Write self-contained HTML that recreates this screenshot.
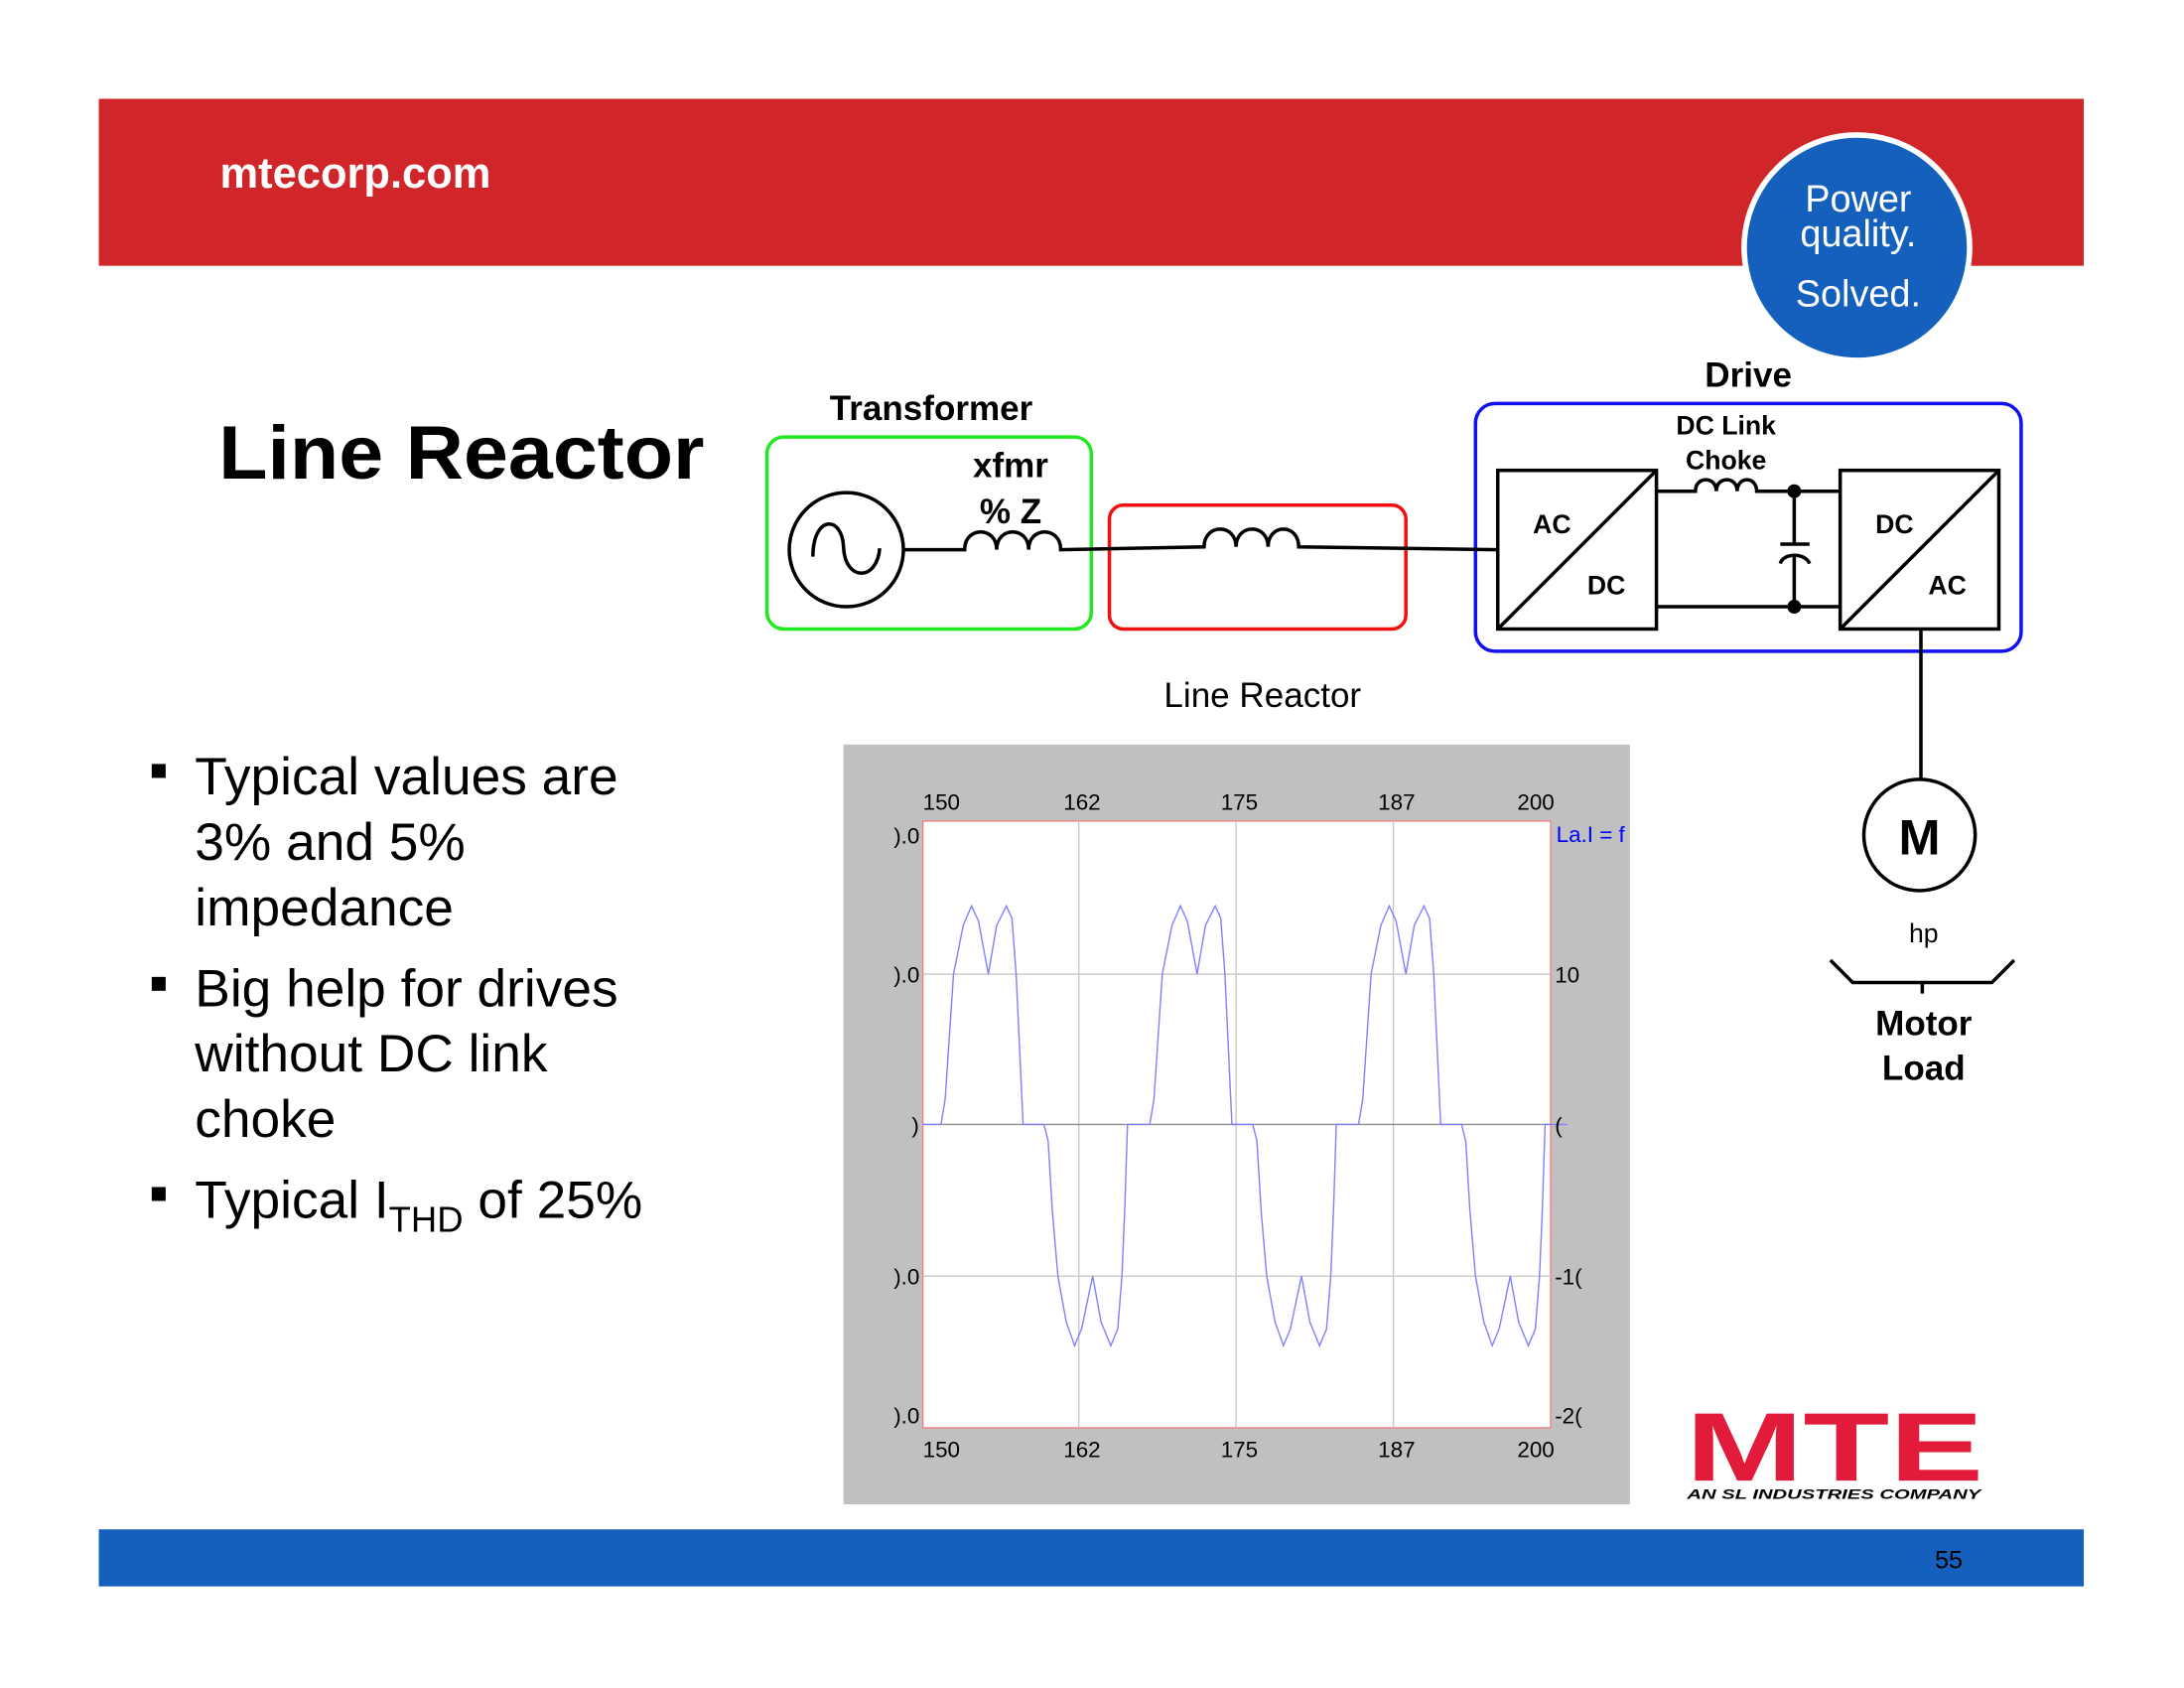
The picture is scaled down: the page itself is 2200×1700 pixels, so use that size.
<!DOCTYPE html>
<html><head><meta charset="utf-8"><style>
html,body{margin:0;padding:0;background:#fff;}
svg{display:block;}
text{font-family:"Liberation Sans",sans-serif;}
</style></head><body>
<svg width="2200" height="1700" viewBox="0 0 1569 1213" preserveAspectRatio="none" xmlns="http://www.w3.org/2000/svg">
<rect x="0" y="0" width="1569" height="1213" fill="#fff"/>
<rect x="71" y="71" width="1426" height="120" fill="#d0262a"/>
<text x="158" y="135" font-size="31" font-weight="bold" fill="#fff">mtecorp.com</text>
<circle cx="1334" cy="178" r="81" fill="#1560bd" stroke="#fff" stroke-width="4"/>
<text x="1335" y="152" font-size="27" fill="#fff" text-anchor="middle">Power</text>
<text x="1335" y="177" font-size="27" fill="#fff" text-anchor="middle">quality.</text>
<text x="1335" y="220" font-size="27" fill="#fff" text-anchor="middle">Solved.</text>
<text x="157" y="344" font-size="54" font-weight="bold" fill="#000" textLength="349" lengthAdjust="spacingAndGlyphs">Line Reactor</text>
<g font-size="38" fill="#000">
<rect x="109" y="549" width="10" height="10"/>
<text x="140" y="571">Typical values are</text>
<text x="140" y="618">3% and 5%</text>
<text x="140" y="665">impedance</text>
<rect x="109" y="702" width="10" height="10"/>
<text x="140" y="723">Big help for drives</text>
<text x="140" y="770">without DC link</text>
<text x="140" y="817">choke</text>
<rect x="109" y="853" width="10" height="10"/>
<text x="140" y="875">Typical I<tspan font-size="26" dy="10">THD</tspan><tspan dy="-10"> of 25%</tspan></text>
</g>
<g fill="none" stroke="#000" stroke-width="2.5">
<rect x="551" y="314" width="233" height="138" rx="12" stroke="#22e822"/>
<rect x="797" y="363" width="213" height="89" rx="10" stroke="#f01010"/>
<rect x="1060" y="290" width="392" height="178" rx="14" stroke="#1010f0"/>
<ellipse cx="608" cy="395" rx="41" ry="41"/>
<path d="M584,400 C584,370 605,370 606,393 C607,418 630,418 632,394"/>
<path d="M649,395 H693 C693,378 716,378 716,395 C716,378 739,378 739,395 C739,378 762,378 762,395 L865,393 C865,376 888,376 888,393 C888,376 911,376 911,393 C911,376 933,376 933,393 L1076,395"/>
<rect x="1076" y="338" width="114" height="114"/>
<line x1="1076" y1="452" x2="1190" y2="338"/>
<rect x="1322" y="338" width="114" height="114"/>
<line x1="1322" y1="452" x2="1436" y2="338"/>
<path d="M1190,353 H1218 C1218,342 1233,342 1233,353 C1233,342 1248,342 1248,353 C1248,342 1262,342 1262,353 H1322"/>
<path d="M1190,436 H1322"/>
<path d="M1289,353 V391 M1289,399 V436 M1279,391 H1300 M1279,405 C1281,397 1297,397 1300,405"/>
<path d="M1380,452 V560"/>
<circle cx="1379" cy="600" r="40"/>
<path d="M1315,690 L1331,706 H1431 L1447,690 M1381,706 V714"/>
</g>
<circle cx="1289" cy="353" r="5" fill="#000"/>
<circle cx="1289" cy="436" r="5" fill="#000"/>
<g font-weight="bold" fill="#000">
<text x="669" y="302" font-size="25" text-anchor="middle">Transformer</text>
<text x="726" y="343" font-size="25" text-anchor="middle">xfmr</text>
<text x="726" y="376" font-size="25" text-anchor="middle">% Z</text>
<text x="1256" y="278" font-size="25" text-anchor="middle">Drive</text>
<text x="1240" y="312" font-size="19" text-anchor="middle">DC Link</text>
<text x="1240" y="337" font-size="19" text-anchor="middle">Choke</text>
<text x="1115" y="383" font-size="19" text-anchor="middle">AC</text>
<text x="1154" y="427" font-size="19" text-anchor="middle">DC</text>
<text x="1361" y="383" font-size="19" text-anchor="middle">DC</text>
<text x="1399" y="427" font-size="19" text-anchor="middle">AC</text>
<text x="1379" y="614" font-size="36" text-anchor="middle">M</text>
<text x="1382" y="677" font-size="19" text-anchor="middle" font-weight="normal">hp</text>
<text x="1382" y="744" font-size="25" text-anchor="middle">Motor</text>
<text x="1382" y="776" font-size="25" text-anchor="middle">Load</text>
</g>
<text x="907" y="508" font-size="25" text-anchor="middle" fill="#000">Line Reactor</text>
<rect x="606" y="535" width="565" height="546" fill="#c0c0c0"/>
<rect x="663" y="590" width="451" height="436" fill="#fff" stroke="#f08080" stroke-width="1"/>
<g stroke="#c8c8c8" stroke-width="1">
<line x1="775" y1="590" x2="775" y2="1026"/>
<line x1="888" y1="590" x2="888" y2="1026"/>
<line x1="1001" y1="590" x2="1001" y2="1026"/>
<line x1="663" y1="700" x2="1114" y2="700"/>
<line x1="663" y1="917" x2="1114" y2="917"/>
</g>
<line x1="663" y1="808" x2="1114" y2="808" stroke="#909090" stroke-width="1"/>
<defs><path id="per" d="M676,808 L679,790 685,700 692,665 698,651 703,662 710,700 716,665 723,651 727,660 730,700 735,808 750,808 753,820 756,870 760,917 766,950 772,967 777,955 785,917 791,950 798,967 803,955 806,917 808,870 810,808 826,808"/></defs>
<g fill="none" stroke="#8080ff" stroke-width="1">
<path d="M663,808 H676"/>
<use href="#per"/>
<use href="#per" transform="translate(150,0)"/>
<use href="#per" transform="translate(300,0)"/>
</g>
<g font-size="16" fill="#000">
<text x="663" y="582">150</text><text x="764" y="582">162</text><text x="877" y="582">175</text><text x="990" y="582">187</text><text x="1090" y="582">200</text>
<text x="663" y="1047">150</text><text x="764" y="1047">162</text><text x="877" y="1047">175</text><text x="990" y="1047">187</text><text x="1090" y="1047">200</text>
<text x="642" y="606">).0</text><text x="642" y="706">).0</text><text x="655" y="814">)</text><text x="642" y="923">).0</text><text x="642" y="1023">).0</text>
<text x="1117" y="706">10</text><text x="1117" y="814">(</text><text x="1117" y="923">-1(</text><text x="1117" y="1023">-2(</text>
<text x="1118" y="605" fill="#0000ff">La.I = f</text>
</g>
<text x="1211" y="1064" font-size="70" font-weight="bold" fill="#e31b3a" textLength="214" lengthAdjust="spacingAndGlyphs">MTE</text>
<text x="1212" y="1077" font-size="10" font-weight="bold" font-style="italic" fill="#000" textLength="211" lengthAdjust="spacingAndGlyphs">AN SL INDUSTRIES COMPANY</text>
<rect x="71" y="1099" width="1426" height="41" fill="#1560bd"/>
<text x="1400" y="1127" font-size="18" fill="#000" text-anchor="middle">55</text>
</svg>
</body></html>
